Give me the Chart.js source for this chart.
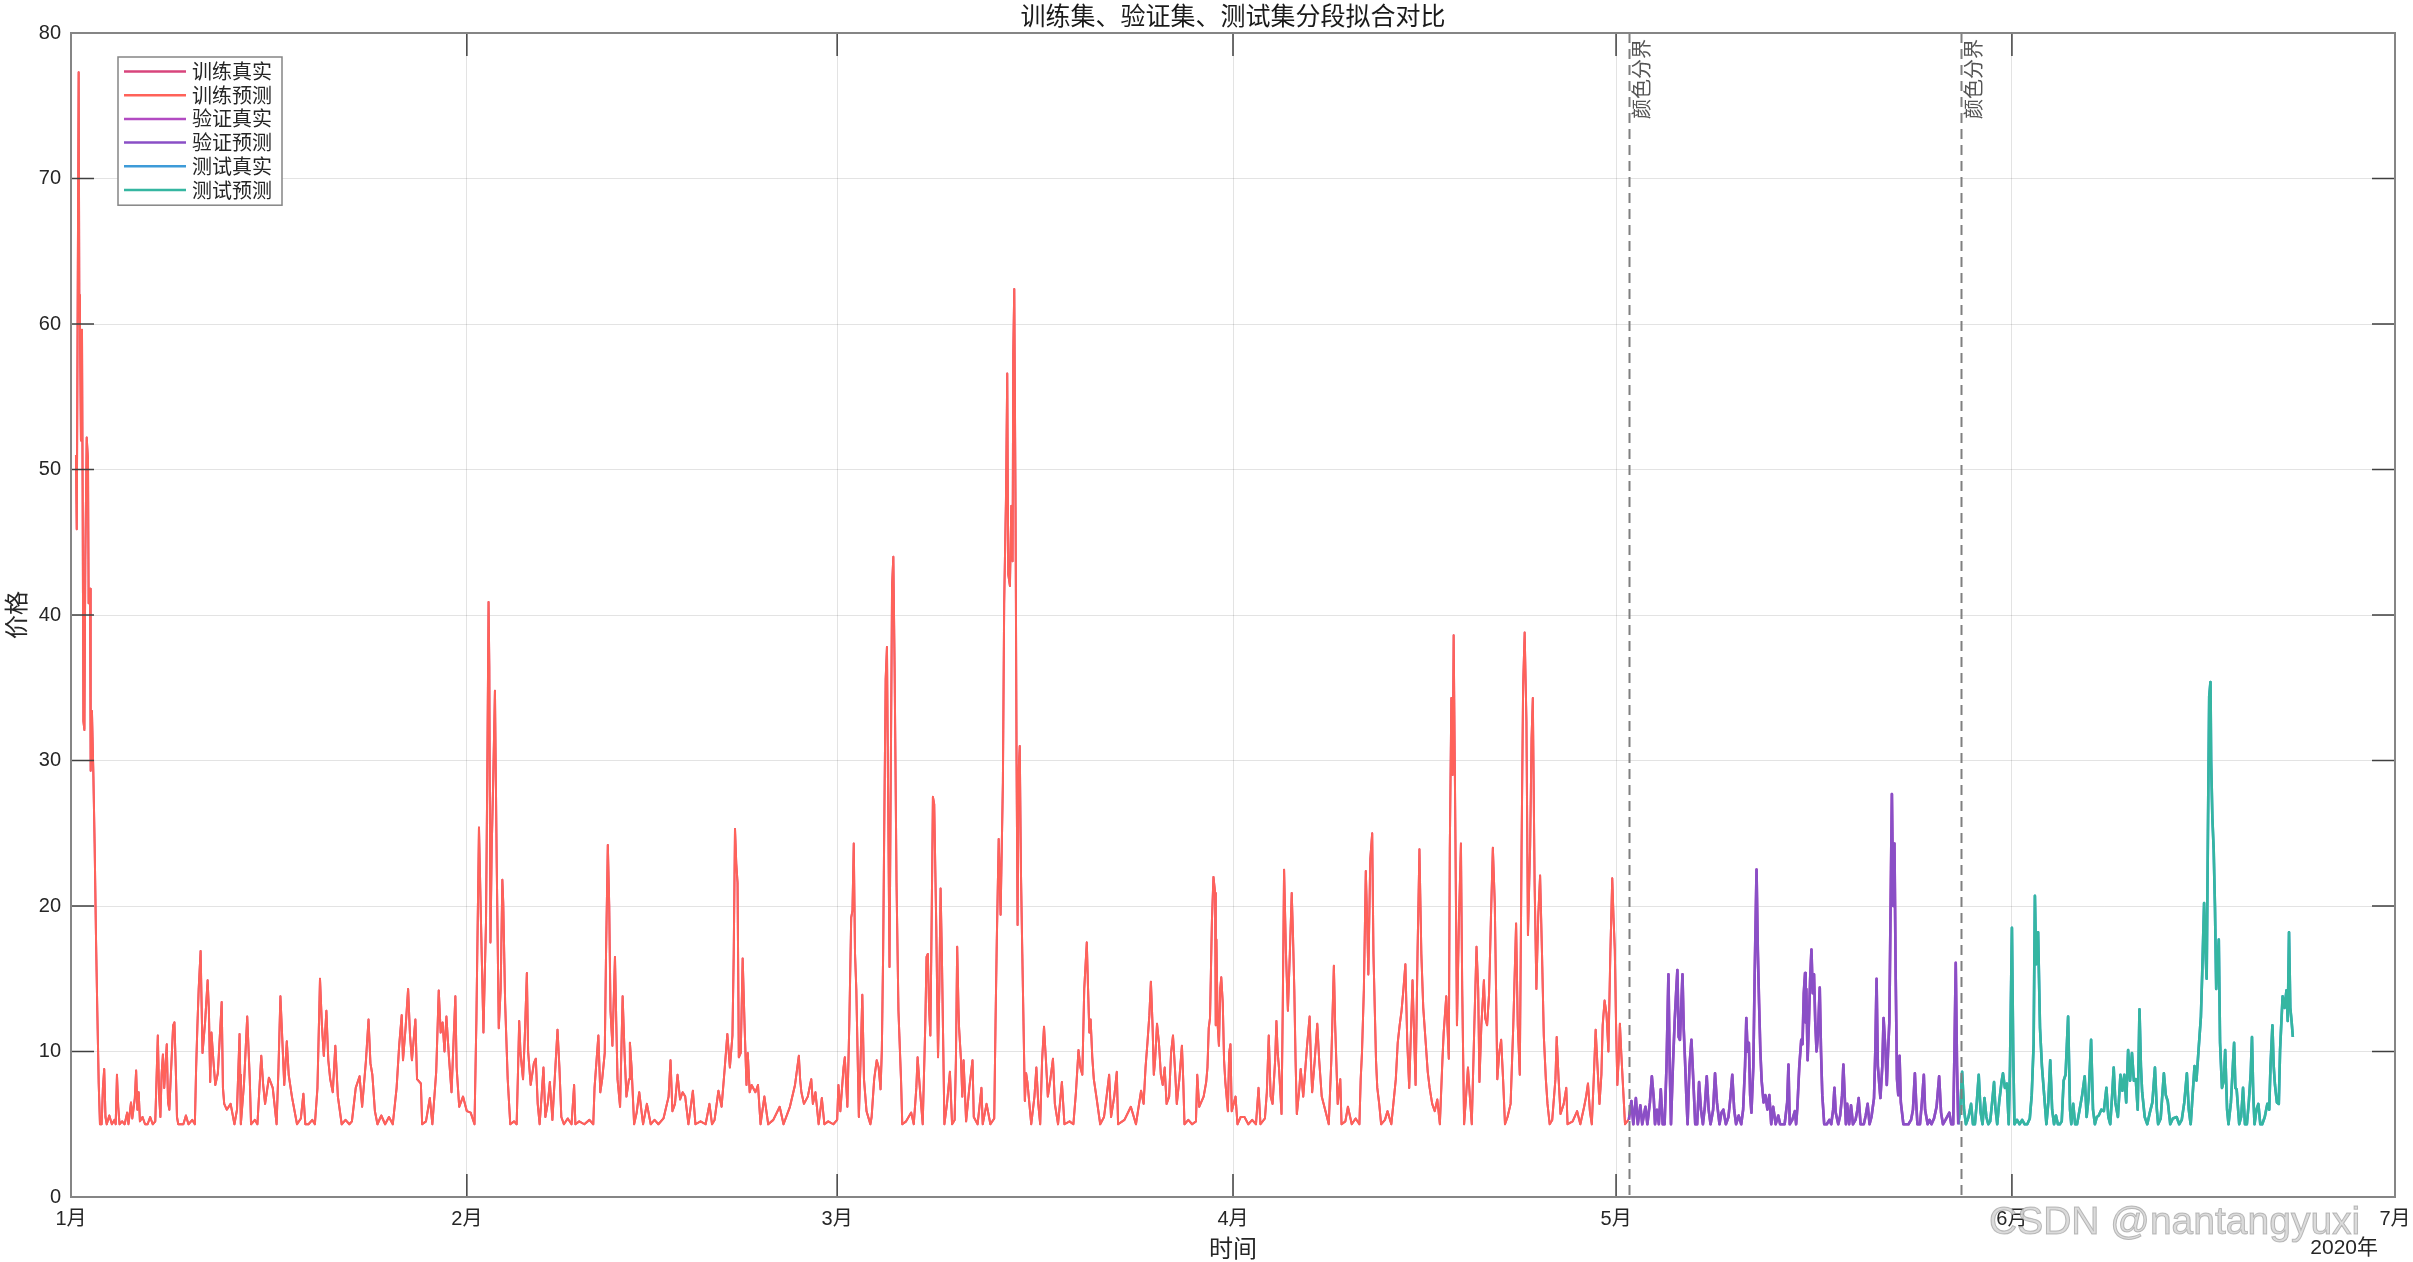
<!DOCTYPE html>
<html>
<head>
<meta charset="utf-8">
<title>训练集、验证集、测试集分段拟合对比</title>
<script src="https://cdn.jsdelivr.net/npm/chart.js@4.4.1/dist/chart.umd.min.js"></script>
<style>
  html, body { margin: 0; padding: 0; background: #fff; }
  canvas { display: block; }
</style>
</head>
<body>
<canvas id="fitChart" width="2413" height="1262"></canvas>
<script>
// x values are days counted from 2020-01-01
const monthDays = [0, 31, 60, 91, 121, 152, 182];
const monthNames = ["1月", "2月", "3月", "4月", "5月", "6月", "7月"];
const splitDays = [122, 148];

// [day, price]
const trainPts = [
  [0.39,51],[0.45,45.9],[0.6,77.3],[0.65,62],[0.7,60],[0.78,52],[0.86,59.6],[0.91,48.9],[0.97,32.7],[1.05,32.1],[1.12,43.8],[1.23,52.2],[1.33,50.7],[1.38,40.8],[1.49,41.8],[1.54,29.3],[1.64,33.4],[1.75,29.1],[1.85,24.3],[1.96,17.7],[2.06,12.8],[2.17,7.8],[2.27,5],
  [2.4,5],[2.5,7.5],[2.6,8.8],[2.7,5.5],[2.8,5],[3.0,5.6],[3.2,5],[3.4,5.3],[3.5,5],[3.6,8.4],[3.7,6.2],[3.8,5],[4.0,5.2],[4.2,5],[4.4,5.8],[4.5,5],[4.7,6.5],[4.8,5.4],[5.0,6.8],[5.1,8.7],[5.2,6],[5.3,7.2],[5.4,5.2],[5.6,5.5],[5.8,5],[6.0,5],[6.2,5.5],[6.4,5],[6.6,5.2],[6.8,11.1],[6.9,7],[7.0,5.5],[7.1,8.5],[7.2,9.8],[7.3,7.5],[7.5,10.5],[7.6,6.5],[7.7,6],[7.8,8],[8.0,11.8],[8.1,12],[8.2,9],[8.3,5.5],[8.4,5],
  [8.8,5],[9.0,5.6],[9.2,5],[9.5,5.3],[9.7,5],[9.8,8.9],[9.9,11.8],[10.0,14.3],[10.15,16.9],[10.3,9.9],[10.5,12],[10.7,14.9],[10.8,12.8],[10.9,7.9],[11.0,11.3],[11.15,9.4],[11.3,7.7],[11.5,8.5],[11.8,13.4],[11.9,7.5],[12.0,6.4],[12.2,6],[12.5,6.4],[12.8,5],[13.0,6],[13.2,11.2],[13.25,8.4],[13.3,5],[13.55,7.8],[13.8,12.4],[14.0,8.1],[14.1,5],[14.4,5.3],[14.6,5],[14.9,9.7],[15.05,7.7],[15.2,6.4],[15.5,8.2],[15.8,7.5],[16.1,5],[16.25,8.9],[16.4,13.8],[16.5,11.8],[16.7,7.7],[16.9,10.7],[17.05,8.4],[17.3,6.9],[17.7,5],[18.0,5.4],[18.2,7.1],[18.35,5],[18.6,5],[18.9,5.3],[19.1,5],[19.3,7.5],[19.5,15],[19.65,11.8],[19.8,9.7],[20.0,12.8],[20.15,9.4],[20.3,8.1],[20.5,7.2],[20.7,10.4],[20.9,6.9],[21.2,5],[21.5,5.3],[21.8,5],[22.0,5.2],[22.3,7.5],[22.6,8.3],[22.8,6.2],[23.1,9.4],[23.3,12.2],[23.45,9.2],[23.6,8.4],[23.8,5.9],[24.0,5],[24.3,5.6],[24.6,5],[24.9,5.5],[25.2,5],[25.5,7.5],[25.7,10.4],[25.9,12.5],[26.0,9.4],[26.2,11.6],[26.4,14.3],[26.55,11.1],[26.7,9.4],[26.97,12.2],[27.1,8.1],[27.4,7.8],[27.5,5],[27.8,5.2],[28.1,6.8],[28.3,5],[28.6,8.6],[28.8,14.2],[28.95,11.3],[29.1,12],[29.25,10],[29.4,12.4],[29.6,9.6],[29.8,7.2],[29.95,10.5],[30.1,13.8],[30.2,8.9],[30.4,6.2],[30.7,6.9],[31.0,5.9],[31.3,5.8],[31.6,5],
  [31.75,12.3],[31.95,25.4],[32.1,19.2],[32.2,15.3],[32.3,11.3],[32.5,18.9],[32.6,29],[32.7,40.9],[32.76,36.4],[32.85,17.5],[32.95,24.1],[33.05,28],[33.2,34.8],[33.34,22.9],[33.5,11.6],[33.65,14.3],[33.78,21.8],[33.85,20.2],[34.0,13.3],[34.2,8.1],[34.4,5],[34.7,5.2],[34.9,5],[35.0,8.4],[35.1,12.1],[35.2,9.9],[35.4,8.1],[35.55,11.3],[35.7,15.4],[35.8,10],[36.0,7.7],[36.25,9.2],[36.4,9.5],[36.55,6.4],[36.7,5],[36.85,6.9],[37.0,8.9],[37.15,5.5],[37.35,6.5],[37.5,7.9],[37.7,5.3],[37.9,8.4],[38.1,11.5],[38.25,8.9],[38.4,5.5],[38.6,5],[38.9,5.4],[39.2,5],[39.4,7.7],[39.5,5],[39.8,5.2],[40.2,5],[40.6,5.3],[40.9,5],[41.0,7.5],[41.3,11.1],[41.45,7.2],[41.6,8.1],[41.8,9.9],[41.9,16.7],[42.04,24.2],[42.15,20],[42.25,12.8],[42.4,10.4],[42.6,16.5],[42.7,12.1],[42.8,8.1],[43.0,6.2],[43.2,13.8],[43.35,9.9],[43.5,6.9],[43.7,8.1],[43.77,10.6],[43.9,8.9],[44.1,5],[44.3,5.8],[44.5,7.2],[44.8,5],[45.1,6.4],[45.4,5],[45.7,5.3],[46.0,5],[46.4,5.4],[46.8,6.9],[46.95,9.4],[47.1,5.9],[47.3,6.4],[47.5,8.4],[47.7,6.7],[47.9,7.2],[48.1,6.9],[48.35,5],[48.7,7.3],[48.9,5],[49.3,5.2],[49.7,5],[50.0,6.4],[50.2,5],[50.4,5.3],[50.7,7.3],[50.95,6.2],[51.2,8.9],[51.4,11.2],[51.6,8.9],[51.8,11.1],[51.9,16.7],[52.0,25.3],[52.1,22.9],[52.2,21.6],[52.3,9.6],[52.45,9.9],[52.6,16.4],[52.75,11.8],[52.9,7.7],[53.0,9.9],[53.15,7.2],[53.3,7.7],[53.6,7.2],[53.8,7.7],[54.0,5],[54.3,6.9],[54.6,5],[55.0,5.3],[55.5,6.2],[55.8,5],[56.3,6.2],[56.7,7.7],[57.0,9.7],[57.1,8.1],[57.2,7.2],[57.4,6.4],[57.7,6.9],[57.97,8.1],[58.1,6.4],[58.3,7.2],[58.55,5],[58.8,6.8],[59.0,5],[59.3,5.2],[59.7,5],[60.0,5.3],[60.1,7.7],[60.25,5.9],[60.5,8.9],[60.6,9.6],[60.8,6.2],[60.95,11.8],[61.1,19.2],[61.2,19.7],[61.3,24.3],[61.4,16.7],[61.5,14.3],[61.7,5.5],[61.85,9.9],[61.97,13.9],[62.1,8.1],[62.3,5.9],[62.6,5],[62.7,5.5],[62.9,8.1],[63.1,9.4],[63.25,8.9],[63.4,7.4],[63.5,10.1],[63.6,16.7],[63.7,26.6],[63.8,35.6],[63.9,37.8],[64.0,26.6],[64.1,15.8],[64.2,29],[64.3,42],[64.4,44],[64.5,36.4],[64.65,21.6],[64.8,12.8],[65.0,8.1],[65.1,5],[65.4,5.2],[65.8,5.8],[66.0,5],[66.2,7.5],[66.3,9.6],[66.5,7.2],[66.7,5],[66.9,11.8],[67.0,16.5],[67.1,16.7],[67.2,13],[67.3,11.1],[67.4,19],[67.5,27.5],[67.6,27],[67.76,18.7],[67.9,9.6],[68.0,14.3],[68.1,21.2],[68.2,16.7],[68.4,5],[68.6,6.4],[68.83,8.6],[69.0,5],[69.2,5.3],[69.3,9.4],[69.4,17.2],[69.5,13],[69.55,11.6],[69.7,9.4],[69.8,6.9],[69.9,9.4],[70.1,5.2],[70.35,7.5],[70.6,9.4],[70.7,5.5],[71.0,5],[71.3,7.5],[71.4,5],[71.7,6.4],[72.0,5],[72.3,5.4],[72.4,11.8],[72.5,17.5],[72.65,24.6],[72.8,19.4],[72.98,28.5],[73.08,40.8],[73.14,40.8],[73.22,47.9],[73.32,56.6],[73.4,42.8],[73.53,42],[73.64,47.5],[73.74,43.7],[73.79,57.9],[73.87,62.4],[73.97,47.4],[74.05,30],[74.13,18.7],[74.2,29],[74.3,31],[74.4,22],[74.5,16.7],[74.7,6.6],[74.8,8.5],[74.9,7.9],[75.2,5],[75.45,6.9],[75.6,8.9],[75.75,6.4],[75.9,5],[76.05,9.4],[76.2,11.7],[76.35,9.4],[76.5,6.9],[76.7,8.1],[76.9,9.5],[77.05,6.4],[77.3,5],[77.6,7.9],[77.8,5],[78.2,5.2],[78.5,5],[78.7,7.2],[78.9,10.1],[79.05,8.9],[79.2,8.4],[79.35,14.3],[79.55,17.5],[79.65,14.3],[79.75,11.3],[79.85,12.2],[79.98,9.6],[80.1,8.1],[80.3,6.9],[80.6,5],[80.9,5.5],[81.1,6.9],[81.3,8.4],[81.45,5.5],[81.7,6.9],[81.9,8.6],[82.0,5],[82.5,5.3],[83.0,6.2],[83.4,5],[83.8,7.3],[84.0,6.4],[84.15,8.9],[84.3,10.6],[84.45,12.5],[84.57,14.8],[84.7,11.8],[84.8,8.4],[84.9,9.4],[85.05,11.9],[85.2,10.6],[85.35,8.4],[85.5,7.7],[85.65,8.9],[85.8,6.4],[86.0,6.9],[86.15,9.9],[86.3,11.1],[86.45,8.9],[86.6,6.4],[86.8,8.1],[87.0,10.4],[87.1,8.1],[87.2,5],[87.5,5.3],[87.8,5],[88.1,5.2],[88.2,8.4],[88.35,6.2],[88.7,6.9],[88.9,7.9],[89.0,8.9],[89.1,11.6],[89.2,12.3],[89.35,19],[89.47,22],[89.6,20.9],[89.65,11.8],[89.7,17.7],[89.8,11.8],[89.9,10.4],[90.0,14.3],[90.08,15.1],[90.2,13.3],[90.3,9.4],[90.4,7.9],[90.5,6.9],[90.6,5.9],[90.7,9.9],[90.8,10.5],[90.9,5.9],[91.2,6.9],[91.35,5],[91.6,5.5],[91.9,5.5],[92.2,5],[92.5,5.3],[92.8,5],[93.0,7.5],[93.15,5],[93.5,5.4],[93.65,7.2],[93.8,11.1],[93.95,6.9],[94.1,6.4],[94.3,9.4],[94.4,12.1],[94.5,9.9],[94.6,8.9],[94.8,5.7],[94.9,13.3],[95.0,22.5],[95.15,16.7],[95.3,12.8],[95.45,16.7],[95.6,20.9],[95.7,17.9],[95.8,14.3],[95.9,9.4],[96.0,5.7],[96.2,7.5],[96.3,8.8],[96.4,7.9],[96.5,6.9],[96.8,10.4],[97.0,12.4],[97.1,9.4],[97.2,7.2],[97.4,9.4],[97.6,11.9],[97.75,9.4],[97.95,6.9],[98.3,5.7],[98.5,5],[98.7,9.4],[98.9,15.9],[99.0,11.8],[99.2,6.4],[99.4,8.1],[99.5,5],[99.8,5.2],[100.0,6.2],[100.3,5],[100.6,5.4],[100.9,5],[101.0,8.1],[101.1,9.9],[101.25,14.3],[101.4,22.4],[101.5,19.2],[101.6,15.3],[101.75,23.2],[101.9,25],[102.0,16.7],[102.2,9.4],[102.3,7.5],[102.45,6.4],[102.6,5],[102.9,5.3],[103.1,5.9],[103.4,5],[103.75,8.1],[103.9,10.6],[104.05,11.8],[104.2,12.8],[104.35,14.3],[104.5,16],[104.65,10.6],[104.8,7.5],[104.95,11.8],[105.06,14.9],[105.2,10.6],[105.3,7.7],[105.45,16.7],[105.6,23.9],[105.75,16.7],[105.9,13],[106.1,10.5],[106.25,8.6],[106.4,7.5],[106.6,6.4],[106.8,5.9],[107.0,6.7],[107.2,5],[107.4,9.4],[107.5,11.3],[107.7,13.8],[107.9,9.5],[107.98,24],[108.1,34.3],[108.2,29],[108.28,38.6],[108.4,26.6],[108.54,11.8],[108.7,19.2],[108.85,24.3],[108.95,14.3],[109.1,5],[109.25,6.9],[109.4,8.9],[109.55,6.9],[109.7,5],[109.9,11.8],[110.07,17.2],[110.2,14.3],[110.3,7.9],[110.45,11.8],[110.65,14.9],[110.75,12.3],[110.9,11.8],[111.05,13.9],[111.2,19.2],[111.35,24],[111.5,20.2],[111.6,14.3],[111.7,8.1],[111.85,9.9],[112.0,10.8],[112.15,8.1],[112.3,5],[112.5,5.5],[112.74,6.4],[112.95,11.8],[113.17,18.8],[113.3,11.8],[113.46,8.4],[113.6,24.1],[113.72,35.1],[113.84,38.8],[113.98,32.7],[114.1,18],[114.2,21.6],[114.27,24.1],[114.38,31.5],[114.48,34.3],[114.62,21.6],[114.76,14.3],[114.9,19.2],[115.05,22.1],[115.2,16.7],[115.34,11.1],[115.5,8.1],[115.63,6.4],[115.8,5],[116.0,5.3],[116.25,8.1],[116.35,11],[116.5,8.1],[116.65,5.7],[116.9,6.4],[117.1,7.5],[117.2,5],[117.6,5.2],[117.95,5.9],[118.2,5],[118.5,6.2],[118.65,6.9],[118.8,7.8],[118.95,5.9],[119.1,5],[119.25,8.1],[119.4,11.5],[119.55,8.9],[119.7,6.4],[119.85,8.4],[119.95,11.8],[120.1,13.5],[120.25,12.6],[120.4,10],[120.55,16.7],[120.7,21.9],[120.8,19.2],[120.9,17],[121.0,11.8],[121.1,7.7],[121.2,9.4],[121.3,11.9],[121.4,10],[121.55,7.5],[121.7,5],[121.96,5.3]
];

const valPts = [
  [122.0,5.3],[122.2,6.6],[122.35,5],[122.55,6.8],[122.7,5],[122.9,6.3],[123.05,5],[123.3,6.2],[123.45,5],[123.65,6.5],[123.8,8.3],[123.95,6.8],[124.05,5],[124.2,6],[124.35,5],[124.5,7.4],[124.65,5],[124.8,5],[124.95,9],[125.1,15.3],[125.2,9],[125.3,5],[125.45,9],[125.6,12.3],[125.7,14],[125.8,15.6],[125.9,11],[126.0,10.8],[126.1,13],[126.2,15.3],[126.3,11.5],[126.4,9.4],[126.5,7],[126.6,5],[126.75,9],[126.9,10.8],[127.05,8],[127.2,5],[127.35,5],[127.5,7.9],[127.65,6],[127.8,5],[127.95,6.2],[128.1,8.3],[128.25,6],[128.4,5],[128.6,6],[128.75,8.5],[128.9,6.5],[129.1,5],[129.25,5.8],[129.4,6],[129.6,5],[129.8,5.5],[129.95,6.8],[130.1,8.4],[130.25,6],[130.4,5],[130.6,5.6],[130.8,5],[130.95,6],[131.1,9],[131.2,12.3],[131.3,10],[131.4,10.6],[131.5,7],[131.6,5.8],[131.75,9],[131.85,15],[132.0,22.5],[132.1,17],[132.2,13.3],[132.3,10],[132.4,8],[132.55,6.5],[132.7,7],[132.85,6],[133.0,7],
  [133.15,5],[133.3,6.2],[133.5,5],[133.7,5.6],[133.85,5],[134.0,5],[134.2,5],[134.4,6.5],[134.5,9.1],[134.6,5],[134.8,5.3],[135.0,5.9],[135.1,5],[135.2,6.2],[135.35,9],[135.5,10.8],[135.6,10.5],[135.7,14],[135.8,15.4],[135.85,12],[135.9,14.3],[136.0,9.4],[136.1,12],[136.2,15],[136.3,17],[136.4,14],[136.5,15.3],[136.6,12],[136.7,10],[136.8,11],[136.95,14.4],[137.05,10],[137.15,7],[137.3,5],[137.5,5],[137.7,5.3],[137.85,5],[138.0,6],[138.1,7.5],[138.2,5.8],[138.4,5],[138.55,5.6],[138.7,7],[138.8,9.1],[138.9,7],[139.0,5],[139.1,6.4],[139.25,5],[139.4,6.3],[139.55,5],[139.75,5.3],[139.9,6],[140.0,6.8],[140.15,5],[140.4,5],[140.55,5.6],[140.7,6.4],[140.85,5],[141.0,5.5],[141.2,6.8],[141.3,10],[141.4,15],[141.5,9],[141.7,6.8],[141.85,9],[141.95,12.3],[142.1,10],[142.2,7.7],[142.3,10],[142.4,12],[142.5,20],[142.6,27.7],[142.7,20],[142.8,24.3],[142.9,15],[143.0,8.1],[143.1,7],[143.2,9.7],[143.3,6.5],[143.5,5],[143.7,5],[143.9,5],[144.1,5.3],[144.25,6],[144.4,8.5],[144.5,6.5],[144.6,5],[144.8,5],[144.95,6.5],[145.1,8.4],[145.2,6],[145.4,5],[145.55,5.3],[145.7,5],[145.9,5.4],[146.1,6.2],[146.3,8.3],[146.45,5.8],[146.6,5],[146.8,5.3],[147.1,5.8],[147.25,5],[147.4,5],[147.5,10],[147.6,16.1],[147.7,9],[147.8,5]
];

const testPts = [
  [147.8,5],[147.95,6],[148.1,8.6],[148.25,6],[148.4,5],[148.6,5.5],[148.8,6.4],[148.95,5],[149.1,5],[149.25,6.5],[149.4,8.4],[149.55,5.8],[149.7,5],[149.85,6.8],[150.0,5.5],[150.15,5],[150.3,5.2],[150.45,6.5],[150.6,7.9],[150.7,6.2],[150.85,5],[151.0,6.5],[151.2,8],[151.3,8.5],[151.45,7.5],[151.6,7.8],[151.75,5],[151.85,9],[152.0,18.5],[152.1,10],[152.2,5],[152.4,5.3],[152.6,5],[152.8,5.3],[153.0,5],[153.2,5],[153.4,5.4],[153.55,7],[153.7,10.5],[153.8,20.7],[153.9,16],[154.05,18.2],[154.2,11.6],[154.35,9],[154.5,7.3],[154.7,5],[154.85,6.5],[155.0,9.4],[155.15,6],[155.3,5],[155.45,5.6],[155.6,5],[155.75,5],[155.9,5.2],[156.05,8],[156.2,8.4],[156.4,12.4],[156.55,6],[156.65,5],[156.8,6.4],[156.95,5],[157.1,5],[157.3,6],[157.5,7],[157.7,8.3],[157.85,5.5],[158.0,6.8],[158.2,10.8],[158.35,6],[158.5,5],[158.65,5.5],[158.8,5.6],[159.0,6],[159.2,5.9],[159.4,7.5],[159.55,5.5],[159.7,5],[159.85,7],[159.97,8.9],[160.1,6.5],[160.3,5.5],[160.5,8.4],[160.65,7.3],[160.8,8.4],[160.95,6.5],[161.1,10.1],[161.25,8],[161.4,9.9],[161.55,8],[161.7,8.1],[161.85,6],[161.99,12.9],[162.1,9],[162.2,7.2],[162.4,5.5],[162.6,5],[162.8,5.8],[163.0,6.5],[163.2,8.9],[163.35,6],[163.45,5],[163.65,5.4],[163.9,8.5],[164.05,7],[164.2,6.6],[164.4,5],[164.6,5.4],[164.9,5.5],[165.1,5],[165.3,5.3],[165.5,6.5],[165.7,8.5],[165.85,6],[166.0,5],[166.15,7],[166.3,9],[166.45,8],[166.6,9.9],[166.8,12.4],[166.9,15.3],[167.05,20.2],[167.15,17],[167.25,15],[167.35,25],[167.45,34.4],[167.55,35.4],[167.6,30],[167.7,26],[167.8,23.9],[167.9,20],[168.0,14.3],[168.1,16],[168.2,17.7],[168.3,10.6],[168.45,7.5],[168.6,8],[168.7,10.1],[168.85,6],[168.96,5],[169.15,6.5],[169.4,10.6],[169.5,7.5],[169.6,7.4],[169.8,5],[169.95,5.5],[170.1,7.5],[170.25,5],[170.4,5],[170.55,6.5],[170.7,8.5],[170.8,11],[170.9,7],[171.0,5],[171.15,6],[171.3,6.4],[171.45,5],[171.6,5],[171.8,5.5],[172.0,6.4],[172.15,6],[172.25,9],[172.4,11.8],[172.5,9],[172.6,7.7],[172.75,6.5],[172.9,6.4],[173.0,10.1],[173.1,12],[173.2,13.8],[173.35,13],[173.5,14.2],[173.6,12.1],[173.7,18.2],[173.8,13],[173.9,12.1],[174.0,11]
];

const FONT = "'Liberation Sans', 'Noto Sans CJK SC', sans-serif";
const CJK = "'Noto Sans CJK SC', sans-serif";

function toXY(pts) {
  return pts.map((p) => ({ x: p[0], y: p[1] }));
}

function series(label, pts, color, width, order) {
  return {
    label: label,
    data: toXY(pts),
    borderColor: color,
    backgroundColor: color,
    borderWidth: width,
    pointRadius: 0,
    fill: false,
    order: order,
  };
}

// dashed split lines with rotated labels
const splitLines = {
  id: "splitLines",
  afterDatasetsDraw(chart) {
    const ctx = chart.ctx;
    const area = chart.chartArea;
    const xs = chart.scales.x;
    ctx.save();
    splitDays.forEach((d) => {
      const px = Math.round(xs.getPixelForValue(d)) + 0.5;
      ctx.strokeStyle = "#808080";
      ctx.lineWidth = 2;
      ctx.setLineDash([10, 6]);
      ctx.beginPath();
      ctx.moveTo(px, area.top);
      ctx.lineTo(px, area.bottom);
      ctx.stroke();
      ctx.setLineDash([]);
      ctx.save();
      ctx.translate(px + 2, area.top + 6);
      ctx.rotate(-Math.PI / 2);
      ctx.fillStyle = "#555555";
      ctx.font = "20px " + CJK;
      ctx.textAlign = "right";
      ctx.textBaseline = "top";
      ctx.fillText("颜色分界", 0, 0);
      ctx.restore();
    });
    ctx.restore();
  },
};

// box, inward ticks, legend box, extra labels
const matlabLook = {
  id: "matlabLook",
  afterDraw(chart) {
    const ctx = chart.ctx;
    const a = chart.chartArea;
    const xs = chart.scales.x;
    const ys = chart.scales.y;
    const tl = 23;
    ctx.save();

    ctx.strokeStyle = "#404040";
    ctx.lineWidth = 1.5;
    ctx.beginPath();
    xs.ticks.forEach((t) => {
      const px = xs.getPixelForValue(t.value);
      ctx.moveTo(px, a.bottom);
      ctx.lineTo(px, a.bottom - tl);
      ctx.moveTo(px, a.top);
      ctx.lineTo(px, a.top + tl);
    });
    ys.ticks.forEach((t) => {
      const py = ys.getPixelForValue(t.value);
      ctx.moveTo(a.left, py);
      ctx.lineTo(a.left + tl, py);
      ctx.moveTo(a.right, py);
      ctx.lineTo(a.right - tl, py);
    });
    ctx.stroke();

    ctx.strokeStyle = "#858585";
    ctx.lineWidth = 2;
    ctx.strokeRect(a.left, a.top, a.right - a.left, a.bottom - a.top);

    // legend
    const sets = chart.data.datasets;
    const lx = a.left + 47;
    const ly = a.top + 24;
    const rowH = 23.7;
    const boxW = 164;
    const boxH = rowH * sets.length + 6;
    ctx.fillStyle = "#ffffff";
    ctx.fillRect(lx, ly, boxW, boxH);
    ctx.strokeStyle = "#858585";
    ctx.lineWidth = 1.5;
    ctx.strokeRect(lx, ly, boxW, boxH);
    ctx.font = "20px " + CJK;
    ctx.textBaseline = "middle";
    ctx.textAlign = "left";
    sets.forEach((ds, i) => {
      const cy = ly + 14.5 + i * rowH;
      ctx.strokeStyle = ds.borderColor;
      ctx.lineWidth = 2.5;
      ctx.beginPath();
      ctx.moveTo(lx + 6, cy);
      ctx.lineTo(lx + 68, cy);
      ctx.stroke();
      ctx.fillStyle = "#262626";
      ctx.fillText(ds.label, lx + 74, cy);
    });

    // year under the last month
    ctx.fillStyle = "#262626";
    ctx.font = "21px " + FONT;
    ctx.textAlign = "right";
    ctx.fillText("2020年", a.right - 17, 1248);

    // site watermark
    ctx.font = "39px " + FONT;
    ctx.textAlign = "left";
    ctx.textBaseline = "alphabetic";
    ctx.fillStyle = "rgba(215,215,215,0.9)";
    ctx.strokeStyle = "rgba(140,140,140,0.55)";
    ctx.lineWidth = 1;
    ctx.fillText("CSDN @nantangyuxi", 1989, 1234);
    ctx.strokeText("CSDN @nantangyuxi", 1989, 1234);
    ctx.restore();
  },
};

const chart = new Chart(document.getElementById("fitChart"), {
  type: "line",
  data: {
    datasets: [
      series("训练真实", trainPts, "#D8457C", 2, 2),
      series("训练预测", trainPts, "#FF6259", 2, 1),
      series("验证真实", valPts, "#B24BC2", 2.6, 2),
      series("验证预测", valPts, "#8A4FC6", 2.6, 1),
      series("测试真实", testPts, "#3E9BD8", 2.6, 2),
      series("测试预测", testPts, "#35B6A1", 2.6, 1),
    ],
  },
  options: {
    responsive: false,
    animation: false,
    devicePixelRatio: 1,
    layout: { padding: { left: 0, right: 18, top: 0, bottom: 0 } },
    elements: { line: { tension: 0, borderJoinStyle: "round" } },
    plugins: {
      legend: { display: false },
      tooltip: { enabled: false },
      title: {
        display: true,
        fullSize: false,
        text: "训练集、验证集、测试集分段拟合对比",
        color: "#1a1a1a",
        font: { family: CJK, size: 25, weight: "normal" },
        lineHeight: 1.16,
        padding: { top: 0, bottom: 3 },
      },
    },
    scales: {
      x: {
        type: "linear",
        min: 0,
        max: 182,
        afterBuildTicks: (s) => {
          s.ticks = monthDays.map((v) => ({ value: v }));
        },
        afterFit: (s) => {
          s.height = 65;
          s.paddingLeft = 0;
          s.paddingRight = 0;
        },
        grid: { color: "rgba(0,0,0,0.11)", lineWidth: 1, drawTicks: false },
        border: { display: false },
        ticks: {
          autoSkip: false,
          maxRotation: 0,
          padding: 10,
          color: "#262626",
          font: { family: FONT, size: 20 },
          callback: (v, i) => monthNames[i],
        },
        title: {
          display: true,
          text: "时间",
          color: "#262626",
          font: { family: CJK, size: 24 },
          padding: { top: 0, bottom: 0 },
        },
      },
      y: {
        min: 0,
        max: 80,
        afterFit: (s) => {
          s.width = 71;
        },
        grid: { color: "rgba(0,0,0,0.11)", lineWidth: 1, drawTicks: false },
        border: { display: false },
        ticks: {
          stepSize: 10,
          padding: 10,
          color: "#262626",
          font: { family: FONT, size: 20 },
        },
        title: {
          display: true,
          text: "价格",
          color: "#262626",
          font: { family: CJK, size: 24 },
          padding: { top: 1, bottom: 0 },
        },
      },
    },
  },
  plugins: [splitLines, matlabLook],
});
</script>
</body>
</html>
